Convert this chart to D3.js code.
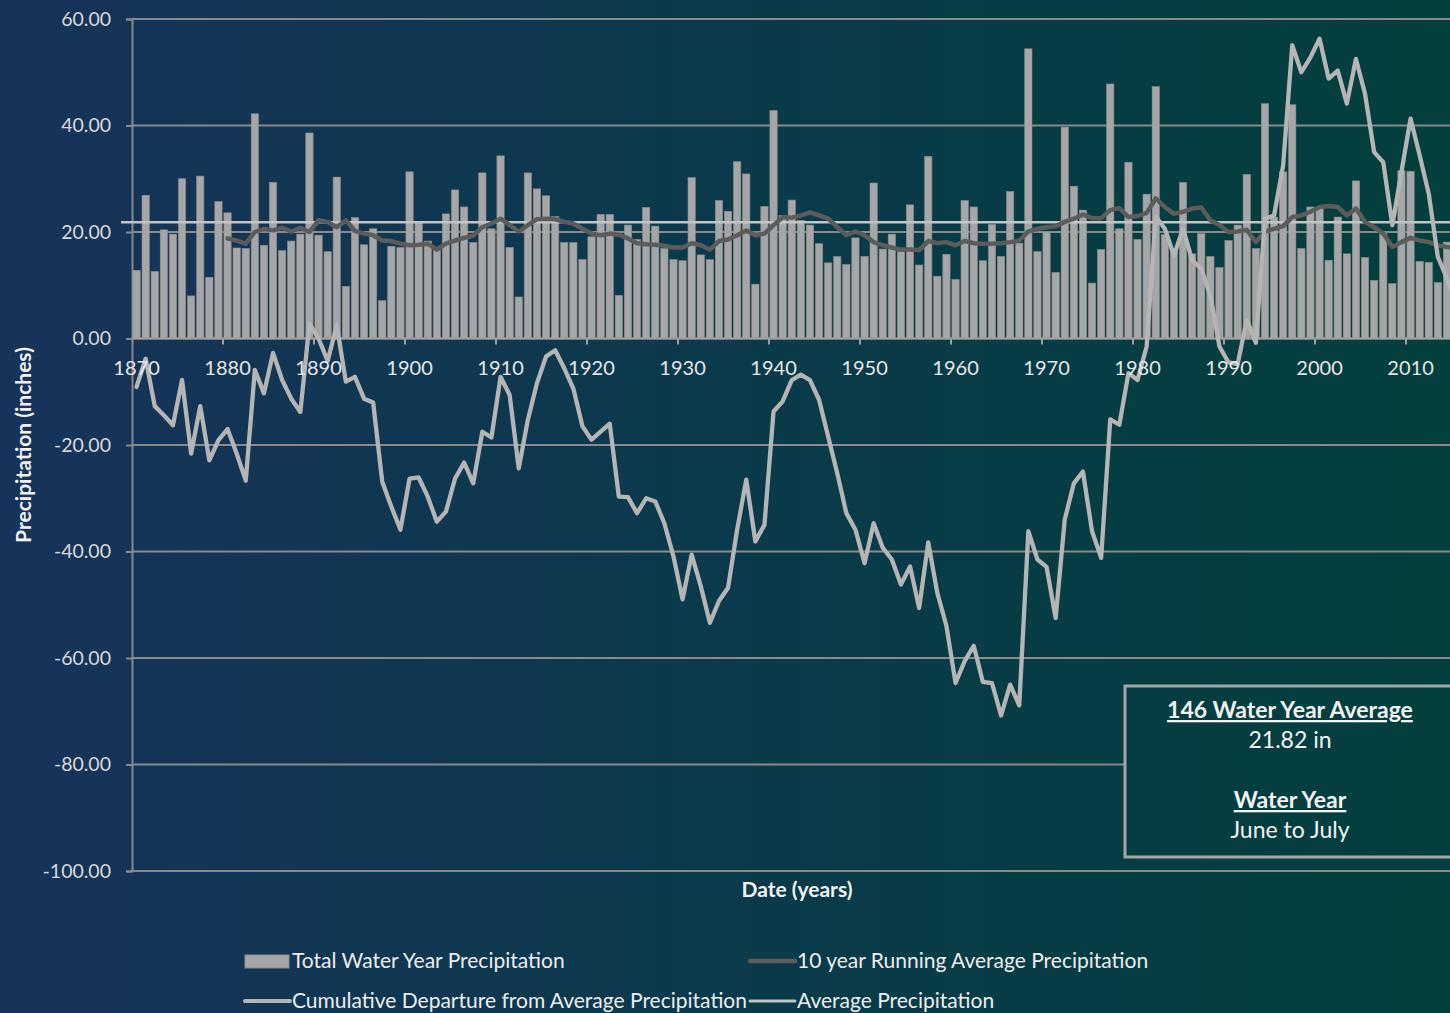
<!DOCTYPE html>
<html><head><meta charset="utf-8">
<script src="https://cdn.jsdelivr.net/npm/d3@7"></script>
<style>html,body{margin:0;padding:0;overflow:hidden;background:#0b3a4c}svg{display:block}</style>
</head><body><svg id="c" width="1450" height="1013"></svg>
<script>
const years = d3.range(1870, 2016);
const totalPrecip = [
12.8,26.9,12.6,20.4,19.6,30.0,8.0,30.5,11.5,25.7,
23.6,17.0,16.9,42.2,17.5,29.3,16.5,18.3,19.6,38.6,
19.4,16.3,30.3,9.8,22.7,17.6,20.6,7.1,17.3,17.1,
31.3,21.9,18.3,16.6,23.4,27.9,24.7,18.0,31.1,20.6,
34.3,17.1,7.8,31.1,28.1,26.8,22.9,18.0,18.0,14.8,
19.1,23.3,23.3,8.1,21.3,18.6,24.6,21.1,16.9,14.8,
14.6,30.2,15.7,14.8,25.9,23.9,33.2,30.9,10.2,24.8,
42.8,23.1,26.0,22.2,21.3,17.8,14.2,15.4,13.9,18.9,
15.4,29.2,16.8,19.6,16.3,25.1,13.8,34.2,11.7,15.8,
11.1,25.9,24.7,14.6,21.4,15.4,27.6,17.9,54.4,16.3,
20.0,12.4,39.7,28.6,24.1,10.4,16.7,47.8,20.6,33.1,
18.6,27.1,47.3,19.5,16.5,29.3,15.9,19.7,15.4,13.3,
18.4,21.3,30.8,16.9,44.1,22.8,31.3,43.9,16.9,24.7,
24.5,14.7,22.8,15.9,29.6,15.2,10.9,19.7,10.3,31.5,
31.4,14.5,14.3,10.5,18.1,17.0];
const cumDeparture = [
-9.1,-3.8,-12.7,-14.4,-16.3,-7.8,-21.6,-12.7,-22.9,-19.1,
-17.0,-21.6,-26.7,-5.9,-10.3,-2.7,-7.8,-11.3,-13.8,2.8,
0.0,-4.2,2.5,-8.1,-7.2,-11.3,-12.0,-26.9,-31.6,-35.9,
-26.3,-26.1,-29.7,-34.4,-32.5,-26.3,-23.3,-27.2,-17.5,-18.6,
-7.2,-10.6,-24.4,-15.3,-8.4,-3.4,-2.2,-5.6,-9.4,-16.5,
-19.0,-17.5,-16.0,-29.7,-29.8,-32.8,-30.0,-30.6,-34.7,-40.9,
-49.0,-40.6,-46.5,-53.4,-49.3,-46.8,-35.9,-26.5,-38.1,-35.0,
-13.7,-11.8,-7.8,-6.8,-7.8,-11.5,-18.4,-25.3,-32.8,-35.9,
-42.2,-34.7,-39.3,-41.5,-46.2,-42.8,-50.6,-38.3,-47.8,-54.0,
-64.7,-60.6,-57.7,-64.5,-64.7,-70.8,-65.0,-68.9,-36.2,-41.5,
-42.9,-52.5,-34.0,-27.2,-25.0,-36.2,-41.2,-15.2,-16.2,-6.5,
-7.8,-1.5,22.9,20.6,15.6,20.6,14.7,13.1,8.1,-1.5,
-4.5,-4.8,3.5,-0.8,22.5,23.1,32.5,55.1,50.0,52.8,
56.3,48.8,50.3,44.1,52.5,45.9,35.0,33.1,21.3,31.3,
41.3,34.4,27.2,15.3,11.3,6.5];
const runningYears = d3.range(1880, 2016);
const runningAvg = [
18.8,18.4,17.8,20.0,20.6,20.3,20.8,20.1,20.8,20.0,
22.2,21.9,20.9,22.2,20.2,19.7,19.4,18.4,18.3,17.8,
17.5,17.6,17.8,16.7,17.8,18.4,18.9,19.3,20.9,21.6,
22.5,21.3,20.1,21.3,22.4,22.5,22.4,21.9,21.6,20.6,
19.7,19.4,19.7,19.5,18.8,17.9,17.7,17.6,17.4,17.1,
17.1,17.9,17.5,16.7,18.3,18.6,19.4,20.3,19.4,19.7,
21.3,22.8,22.7,23.1,23.7,23.1,22.5,20.9,19.4,20.1,
19.4,18.1,17.5,17.1,16.7,16.7,16.6,18.3,17.9,18.1,
17.5,18.3,17.9,17.8,17.8,17.9,18.1,18.4,20.1,20.6,
20.9,21.1,21.9,22.5,23.3,22.6,22.6,24.1,24.5,22.8,
23.0,23.6,26.3,24.7,23.4,23.8,24.4,24.6,22.2,21.3,
20.0,20.1,20.4,18.1,20.1,20.6,21.1,22.8,23.1,23.8,
24.7,24.9,24.7,23.1,24.4,21.9,20.9,19.7,17.2,18.1,
18.9,18.4,18.1,17.5,17.2,17.0];
const averagePrecip = 21.82;
const yTicks = [-100, -80, -60, -40, -20, 0, 20, 40, 60];
const decadeLabels = d3.range(1870, 2020, 10);
const legendItems = ["Total Water Year Precipitation", "10 year Running Average Precipitation",
  "Cumulative Departure from Average Precipitation", "Average Precipitation"];
const boxLines = ["146 Water Year Average", "21.82 in", "Water Year", "June to July"];

const FONT = "Lato, 'Open Sans', sans-serif";
const svg = d3.select("#c");
const defs = svg.append("defs");
const grad = defs.append("linearGradient").attr("id", "bg")
  .attr("gradientUnits", "userSpaceOnUse").attr("x1", 0).attr("y1", 0).attr("x2", 1450).attr("y2", 0);
grad.append("stop").attr("offset", "0%").attr("stop-color", "#17335a");
grad.append("stop").attr("offset", "50%").attr("stop-color", "#0a3a4b");
grad.append("stop").attr("offset", "100%").attr("stop-color", "#033f3d");
svg.append("rect").attr("width", 1450).attr("height", 1013).attr("fill", "url(#bg)");

const pLeft = 132, pTop = 19, pBottom = 871;
const pRight = pLeft + 146 * 9.1;
const x = d3.scaleBand().domain(years).range([pLeft, pRight]).paddingInner(0.2).paddingOuter(0.1);
const y = d3.scaleLinear().domain([-100, 60]).range([pBottom, pTop]);
const cx = d => x(d) + x.bandwidth() / 2;
const step = x.step();
const fmt = d => d3.format(".2f")(d).replace("\u2212", "-");

// gridlines
svg.append("g").selectAll("line").data(yTicks).join("line")
  .attr("x1", pLeft).attr("x2", pRight).attr("y1", d => y(d)).attr("y2", d => y(d))
  .attr("stroke", "#8a8a8a").attr("stroke-width", 2);

// y axis
const ya = svg.append("g").attr("transform", `translate(${pLeft},0)`)
  .call(d3.axisLeft(y).tickValues(yTicks).tickFormat(fmt).tickSize(6).tickPadding(15));
ya.select(".domain").attr("stroke", "#8a8a8a").attr("stroke-width", 2);
ya.selectAll(".tick line").attr("stroke", "#8a8a8a").attr("stroke-width", 2);
ya.selectAll(".tick text").attr("fill", "#d9d9d9").style("font-family", FONT).style("font-size", "19.5px");

// bars
svg.append("g").selectAll("rect").data(years).join("rect")
  .attr("x", d => x(d)).attr("width", x.bandwidth())
  .attr("y", (d, i) => y(totalPrecip[i])).attr("height", (d, i) => y(0) - y(totalPrecip[i]))
  .attr("fill", "#a6a6a6").attr("stroke", "#8e8e8e").attr("stroke-width", 0.6);

// x axis line & ticks
svg.append("line").attr("x1", pLeft).attr("x2", pRight).attr("y1", y(0)).attr("y2", y(0))
  .attr("stroke", "#a0a0a0").attr("stroke-width", 2);
svg.append("g").selectAll("line").data(decadeLabels.filter(d => d > 1870)).join("line")
  .attr("x1", d => x(d) - step * 0.1).attr("x2", d => x(d) - step * 0.1)
  .attr("y1", y(0)).attr("y2", y(0) + 6).attr("stroke", "#a0a0a0").attr("stroke-width", 2);

// average line
svg.append("line").attr("x1", 121).attr("x2", pRight)
  .attr("y1", y(averagePrecip)).attr("y2", y(averagePrecip))
  .attr("stroke", "#c4c4c4").attr("stroke-width", 2.5);

// running avg line
svg.append("path").datum(runningAvg)
  .attr("d", d3.line().x((d, i) => cx(runningYears[i])).y(d => y(d)))
  .attr("fill", "none").attr("stroke", "#5c5c5c").attr("stroke-width", 4.5)
  .attr("stroke-linejoin", "round").attr("stroke-linecap", "round");

// cumulative departure line
svg.append("path").datum(cumDeparture)
  .attr("d", d3.line().x((d, i) => cx(years[i])).y(d => y(d)))
  .attr("fill", "none").attr("stroke", "#b5b5b5").attr("stroke-width", 4.3)
  .attr("stroke-linejoin", "round").attr("stroke-linecap", "round");

// x labels
const xa = svg.append("g").attr("transform", `translate(0,${y(0)})`)
  .call(d3.axisBottom(x).tickValues(decadeLabels).tickSize(0).tickPadding(22));
xa.select(".domain").remove();
xa.selectAll(".tick text").attr("fill", "#e6e6e6").style("font-family", FONT).style("font-size", "20px");

// axis titles
svg.append("text").attr("x", 797).attr("y", 897).attr("text-anchor", "middle")
  .attr("fill", "#f2f2f2").style("font-family", FONT).style("font-size", "21px").style("font-weight", "bold")
  .text("Date (years)");
svg.append("text").attr("transform", "translate(31,445) rotate(-90)").attr("text-anchor", "middle")
  .attr("fill", "#f2f2f2").style("font-family", FONT).style("font-size", "21px").style("font-weight", "bold")
  .text("Precipitation (inches)");

// info box
svg.append("rect").attr("x", 1125).attr("y", 686).attr("width", 400).attr("height", 171)
  .attr("fill", "url(#bg)").attr("stroke", "#a6a6a6").attr("stroke-width", 3);
const bx = 1290;
const boxY = [718, 748, 808, 838];
boxLines.forEach((t, i) => {
  const bold = i % 2 === 0;
  svg.append("text").attr("x", bx).attr("y", boxY[i]).attr("text-anchor", "middle")
    .attr("fill", "#f2f2f2").style("font-family", FONT).style("font-size", "23px")
    .style("font-weight", bold ? "bold" : "normal").style("text-decoration", bold ? "underline" : "none")
    .text(t);
});

// legend
const lg = svg.append("g").style("font-family", FONT).style("font-size", "21px");
lg.append("rect").attr("x", 245).attr("y", 955).attr("width", 44).attr("height", 13)
  .attr("fill", "#a6a6a6").attr("stroke", "#8e8e8e");
const legPos = [[292, 961], [797, 961], [292, 1001], [797, 1001]];
const swatch = [null, {c: "#5c5c5c", w: 4.5}, {c: "#b5b5b5", w: 4}, {c: "#c4c4c4", w: 3}];
legendItems.forEach((t, i) => {
  const [lx, ly] = legPos[i];
  if (swatch[i]) {
    lg.append("line").attr("x1", lx - 47).attr("x2", lx - 2).attr("y1", ly).attr("y2", ly)
      .attr("stroke", swatch[i].c).attr("stroke-width", swatch[i].w).attr("stroke-linecap", "round");
  }
  lg.append("text").attr("x", lx).attr("y", ly).attr("dy", "0.35em").attr("fill", "#eeeeee").text(t);
});
</script></body></html>
